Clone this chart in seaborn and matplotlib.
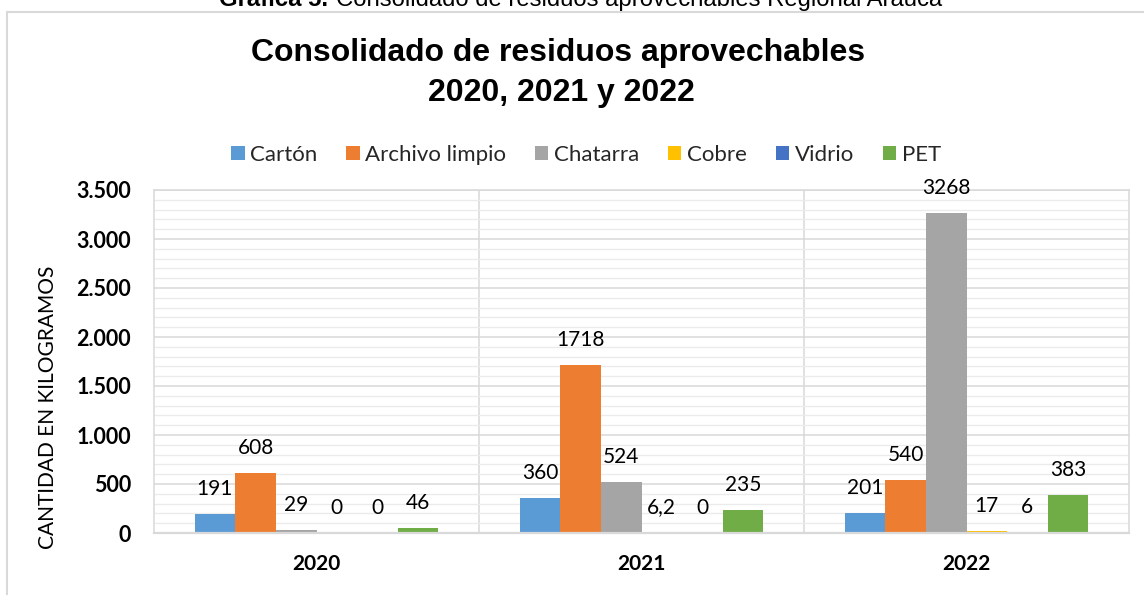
import matplotlib
matplotlib.use("Agg")
import matplotlib.pyplot as plt
from matplotlib.patches import Patch
from matplotlib.ticker import MultipleLocator, FuncFormatter
from matplotlib.lines import Line2D
import seaborn as sns
import pandas as pd

# Datos: kilogramos de residuos aprovechables por año
years = ["2020", "2021", "2022"]
materials = ["Cartón", "Archivo limpio", "Chatarra", "Cobre", "Vidrio", "PET"]
carton = [191, 360, 201]
archivo_limpio = [608, 1718, 540]
chatarra = [29, 524, 3268]
cobre = [0, 6.2, 17]
vidrio = [0, 0, 6]
pet = [46, 235, 383]
colors = ["#5B9BD5", "#ED7D31", "#A5A5A5", "#FFC000", "#4472C4", "#70AD47"]

series = [carton, archivo_limpio, chatarra, cobre, vidrio, pet]
rows = []
for mat, vals in zip(materials, series):
    for yr, v in zip(years, vals):
        rows.append({"Año": yr, "Material": mat, "Kg": v})
df = pd.DataFrame(rows)

sns.set_theme(style="white")
plt.rcParams["font.family"] = ["Lato", "DejaVu Sans"]

W, H = 1144, 595
fig = plt.figure(figsize=(W / 100, H / 100), dpi=100)


def fx(px):
    return px / W


def fy(py):
    return 1 - py / H


ax = fig.add_axes([fx(154), fy(533), fx(1129) - fx(154), fy(190) - fy(533)])

sns.barplot(data=df, x="Año", y="Kg", hue="Material", hue_order=materials,
            order=years, palette=colors, width=0.75, gap=0, ax=ax,
            errorbar=None, saturation=1, legend=False, edgecolor="none")

ax.set_xlim(-0.5, 2.5)
ax.set_ylim(0, 3500)
ax.yaxis.set_major_locator(MultipleLocator(500))
ax.yaxis.set_minor_locator(MultipleLocator(100))
ax.yaxis.set_major_formatter(
    FuncFormatter(lambda v, p: f"{int(v):,}".replace(",", ".")))
ax.grid(axis="y", which="major", color="#d9d9d9", lw=1.1, zorder=0)
ax.grid(axis="y", which="minor", color="#ebebeb", lw=1.0, zorder=0)
ax.set_axisbelow(True)
for xs in (0.5, 1.5):
    ax.axvline(xs, color="#d9d9d9", lw=1.1, zorder=0)
for s in ax.spines.values():
    s.set_color("#d9d9d9")
    s.set_linewidth(1.1)
ax.spines["bottom"].set_linewidth(1.6)
ax.tick_params(axis="both", which="both", length=0)
ax.tick_params(axis="y", pad=16.5)
ax.tick_params(axis="x", pad=15)
for lab in ax.get_yticklabels():
    lab.set_fontweight("bold")
    lab.set_fontsize(15.5)
    lab.set_color("#000000")
for lab in ax.get_xticklabels():
    lab.set_fontweight("bold")
    lab.set_fontsize(15)
    lab.set_color("#000000")
ax.set_xlabel("")
ax.set_ylabel("")


def fmt(v):
    if float(v).is_integer():
        return str(int(v))
    return f"{v}".replace(".", ",")


for cont, vals in zip(ax.containers, series):
    for bar, v in zip(cont, vals):
        cx = bar.get_x() + bar.get_width() / 2
        ax.annotate(fmt(v), (cx, v), xytext=(0, 18), textcoords="offset points",
                    ha="center", va="center", fontsize=15, color="#000000",
                    annotation_clip=False)

# Título en dos líneas
title_fam = ["Liberation Sans", "DejaVu Sans"]
fig.text(fx(558), fy(53), "Consolidado de residuos aprovechables",
         ha="center", va="center", fontsize=23, fontweight="bold",
         family=title_fam, color="#000000")
fig.text(fx(561), fy(93), "2020, 2021 y 2022",
         ha="center", va="center", fontsize=23, fontweight="bold",
         family=title_fam, color="#000000")

# Eje Y
fig.text(fx(48), fy(407), "CANTIDAD EN KILOGRAMOS", rotation=90, ha="center",
         va="center", fontsize=15, color="#000000")

# Leyenda
handles = [Patch(facecolor=c, edgecolor="none", label=m) for c, m in zip(colors, materials)]
fig.legend(handles=handles, loc="center", bbox_to_anchor=(fx(586), fy(155)), ncol=6,
           frameon=False, fontsize=16, handlelength=0.6, handleheight=0.6,
           handletextpad=0.25, columnspacing=1.3, borderaxespad=0, borderpad=0)

# Marco del gráfico
fig.add_artist(Line2D([fx(7), fx(1144)], [fy(12), fy(12)], color="#d9d9d9", lw=1.5))
fig.add_artist(Line2D([fx(7), fx(7)], [fy(12), fy(595)], color="#d9d9d9", lw=1.5))

# Leyenda de la figura (recortada en la parte superior)
cap_fam = ["Liberation Sans", "DejaVu Sans"]
fig.text(fx(328), fy(6), "Gráfica 5.", ha="right", va="baseline", fontsize=17.2,
         fontweight="bold", family=cap_fam, color="#000000")
fig.text(fx(336), fy(6), "Consolidado de residuos aprovechables Regional Arauca",
         ha="left", va="baseline", fontsize=17.2, family=cap_fam, color="#000000")

fig.savefig("out.png", dpi=100, facecolor="white")
